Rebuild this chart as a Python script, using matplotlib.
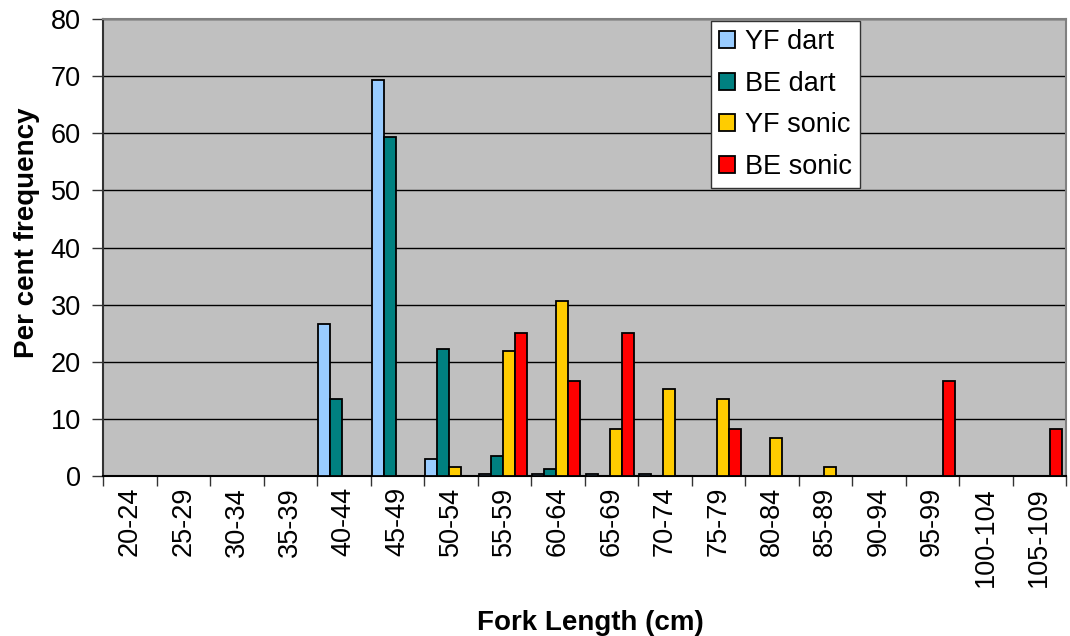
import numpy as np
import matplotlib
matplotlib.use('Agg')
from matplotlib import pyplot as plt

plt.rcParams['font.family'] = ['Liberation Sans', 'DejaVu Sans']

# 类别 (Fork Length 区间)
categories = ['20-24', '25-29', '30-34', '35-39', '40-44', '45-49', '50-54',
              '55-59', '60-64', '65-69', '70-74', '75-79', '80-84', '85-89',
              '90-94', '95-99', '100-104', '105-109']

# 各系列数值 (%)
yf_dart = [0, 0, 0, 0, 26.6, 69.3, 2.9, 0.3, 0.3, 0.3, 0.3, 0, 0, 0, 0, 0, 0, 0]
be_dart = [0, 0, 0, 0, 13.5, 59.3, 22.2, 3.5, 1.3, 0, 0, 0, 0, 0, 0, 0, 0, 0]
yf_sonic = [0, 0, 0, 0, 0, 0, 1.6, 21.9, 30.6, 8.3, 15.2, 13.5, 6.7, 1.6, 0, 0, 0, 0]
be_sonic = [0, 0, 0, 0, 0, 0, 0, 25.0, 16.7, 25.0, 0, 8.3, 0, 0, 0, 16.7, 0, 8.3]

series_names = ['YF dart', 'BE dart', 'YF sonic', 'BE sonic']
colors = ['#99CCFF', '#008080', '#FFCC00', '#FF0000']

W, H = 1070, 636
fig = plt.figure(figsize=(W / 100, H / 100), dpi=100)
ax = fig.add_axes([103 / W, 1 - 476 / H, 963 / W, 457 / H])
ax.set_facecolor('#C0C0C0')

x = np.arange(len(categories))
w = 0.224
shift = -0.028
for k, vals in enumerate([yf_dart, be_dart, yf_sonic, be_sonic]):
    ax.bar(x + (k - 1.5) * w + shift, vals, width=w, color=colors[k],
           edgecolor='black', linewidth=1.3, label=series_names[k], zorder=3)

ax.set_xlim(-0.5, len(categories) - 0.5)
ax.set_ylim(0, 80)
ax.set_yticks(np.arange(0, 81, 10))
ax.yaxis.grid(True, color='black', linewidth=1.0)
ax.set_axisbelow(True)

# x 轴：标签放在类别中间，刻度线放在类别边界
ax.set_xticks(x)
ax.set_xticklabels(categories, rotation=90, fontsize=19.5)
ax.set_xticks(np.arange(-0.5, len(categories), 1), minor=True)
ax.tick_params(axis='x', which='major', length=0, pad=8)
ax.tick_params(axis='x', which='minor', length=7, width=1, color='#333333')
ax.tick_params(axis='y', length=8, width=1, pad=8, labelsize=19.5, color='#333333')

for s in ['top', 'right']:
    ax.spines[s].set_color('#808080')
    ax.spines[s].set_linewidth(1.5)
ax.spines['left'].set_color('#333333')
ax.spines['left'].set_linewidth(1.5)
ax.spines['bottom'].set_color('black')
ax.spines['bottom'].set_linewidth(1.5)

leg = ax.legend(loc='upper left', bbox_to_anchor=(0.631, 0.996), fontsize=19.5,
                frameon=True, fancybox=False, framealpha=1, edgecolor='#333333',
                borderaxespad=0, borderpad=0.3, labelspacing=0.58,
                handlelength=0.6, handleheight=0.6, handletextpad=0.35)
leg.get_frame().set_linewidth(1.0)

fig.text(590 / W, 1 - 623 / H, 'Fork Length (cm)', fontsize=20, fontweight='bold',
         ha='center', va='center')
fig.text(27 / W, 1 - 233 / H, 'Per cent frequency', fontsize=20, fontweight='bold',
         ha='center', va='center', rotation=90)

fig.savefig('out.png', dpi=100)
